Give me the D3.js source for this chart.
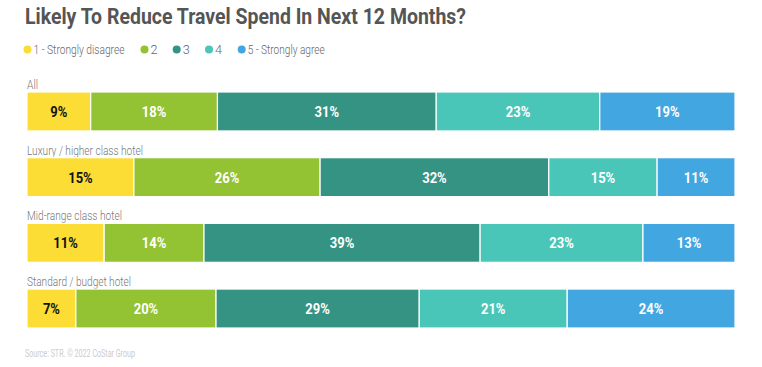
<!DOCTYPE html>
<html><head><meta charset="utf-8">
<script src="https://cdn.jsdelivr.net/npm/d3@7"></script>
<style>body{margin:0;background:#fff}svg{display:block}text{font-family:Roboto,"Noto Sans",sans-serif}</style>
</head><body>
<script>
const title = "Likely To Reduce Travel Spend In Next 12 Months?";
const source = "Source: STR. © 2022 CoStar Group";
const categories = ["All", "Luxury / higher class hotel", "Mid-range class hotel", "Standard / budget hotel"];
const seriesNames = ["1 - Strongly disagree", "2", "3", "4", "5 - Strongly agree"];
const colors = ["#FBDD36", "#93C233", "#359383", "#4AC6B9", "#42A6E1"];
const s1 = [9.0, 15.1, 10.9, 6.9];
const s2 = [17.9, 26.3, 14.1, 19.8];
const s3 = [30.9, 32.3, 39.0, 28.7];
const s4 = [23.1, 15.3, 23.0, 20.9];
const s5 = [19.1, 11.0, 13.0, 23.7];
const series = [s1, s2, s3, s4, s5];

const W = 762, H = 367;
const svg = d3.select("body").append("svg").attr("width", W).attr("height", H);

svg.append("text").attr("x", 25).attr("y", 23.5).attr("font-size", 22).attr("font-weight", 700)
  .attr("fill", "#555").attr("textLength", 441).attr("lengthAdjust", "spacingAndGlyphs").text(title);

// legend
const legendX = [27.5, 144.5, 176.7, 209, 241.7];
const legendW = [91, 7, 7, 7, 77];
const lg = svg.append("g");
seriesNames.forEach((n, i) => {
  lg.append("circle").attr("cx", legendX[i]).attr("cy", 49.5).attr("r", 4).attr("fill", colors[i]);
  lg.append("text").attr("x", legendX[i] + 6).attr("y", 53.5).attr("font-size", 12).attr("font-weight", 300)
    .attr("fill", "#666").attr("textLength", legendW[i]).attr("lengthAdjust", "spacingAndGlyphs").text(n);
});

const x = d3.scaleLinear().domain([0, 100]).range([27, 735]);
const y = d3.scaleBand().domain(categories).range([92, 328]).paddingInner(0.407).paddingOuter(0);

const stackData = categories.map((c, i) => {
  const o = {cat: c};
  series.forEach((s, j) => o["k" + j] = s[i]);
  return o;
});
const keys = series.map((s, j) => "k" + j);
const stacked = d3.stack().keys(keys)(stackData);

const rowLabelW = [11, 116, 95, 104];
categories.forEach((c, i) => {
  svg.append("text").attr("x", 27).attr("y", y(c) - 3).attr("font-size", 12).attr("font-weight", 300)
    .attr("fill", "#777").attr("textLength", rowLabelW[i]).attr("lengthAdjust", "spacingAndGlyphs").text(c);
});

stacked.forEach((layer, j) => {
  const g = svg.append("g");
  g.selectAll("rect").data(layer).join("rect")
    .attr("x", d => x(d[0])).attr("width", d => x(d[1]) - x(d[0]))
    .attr("y", d => y(d.data.cat)).attr("height", y.bandwidth())
    .attr("fill", colors[j]).attr("stroke", "#fff").attr("stroke-width", 1.2);
  g.selectAll("text").data(layer).join("text")
    .attr("x", d => (x(d[0]) + x(d[1])) / 2).attr("y", d => y(d.data.cat) + y.bandwidth() / 2 + 5.5)
    .attr("text-anchor", "middle").attr("font-size", 15.5).attr("font-weight", 700)
    .attr("fill", j === 0 ? "#111" : "#fff").text(d => Math.round(d[1] - d[0]) + "%")
    .each(function() {
      const len = this.getComputedTextLength();
      d3.select(this).attr("textLength", len * 0.84).attr("lengthAdjust", "spacingAndGlyphs");
    });
});

svg.append("text").attr("x", 25).attr("y", 357).attr("font-size", 10).attr("fill", "#cccccc")
  .attr("textLength", 110).attr("lengthAdjust", "spacingAndGlyphs").text(source);
</script>
</body></html>
